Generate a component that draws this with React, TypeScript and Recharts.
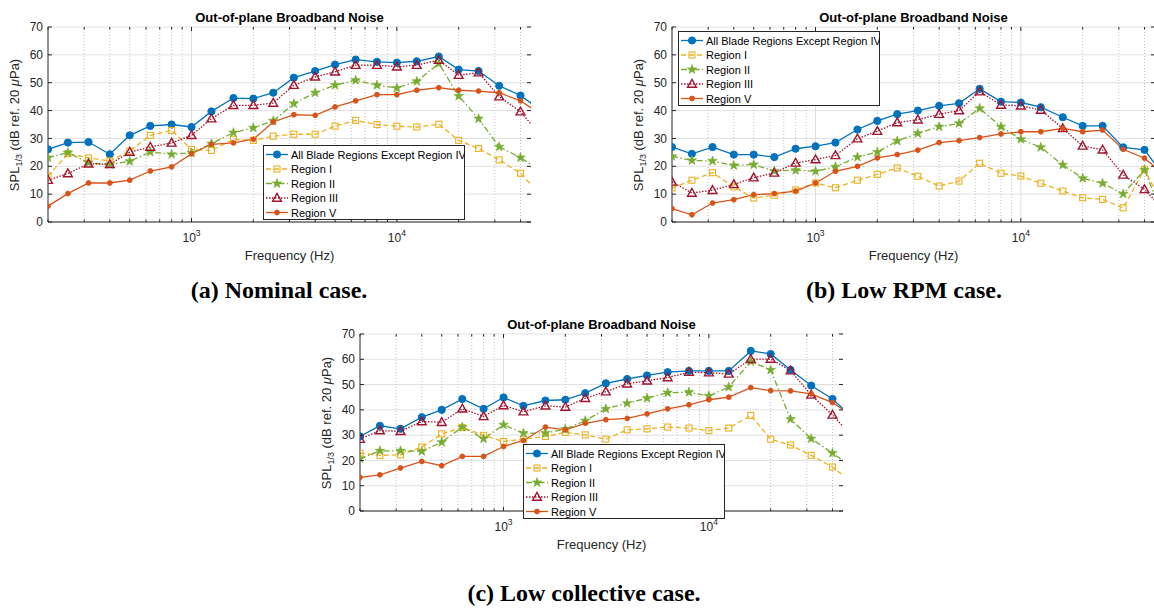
import React from 'react';
import { LineChart, Line, XAxis, YAxis, CartesianGrid, ReferenceLine } from 'recharts';

// 1/3-octave band centre frequencies (Hz); last band lies past the axis limit
const FREQ = [
  200, 250, 315, 400, 500, 630, 800, 1000, 1250, 1600, 2000, 2500, 3150, 4000,
  5000, 6300, 8000, 10000, 12500, 16000, 20000, 25000, 31500, 40000, 50000,
];

// (a) Nominal case
const A_ALL = [26.1, 28.5, 28.7, 24.3, 31.1, 34.5, 35.0, 34.1, 39.7, 44.5, 44.3, 46.4, 51.8, 54.2, 56.5, 58.3, 57.5, 57.2, 57.7, 59.4, 54.7, 54.2, 48.9, 45.4, 40.2];
const A_R1 = [16.5, 24.5, 23.0, 21.9, 25.5, 31.1, 32.9, 26.0, 25.7, 29.7, 29.3, 30.8, 31.5, 31.5, 34.4, 36.5, 35.0, 34.4, 34.1, 35.1, 29.3, 26.4, 22.3, 17.5, 9.7];
const A_R2 = [23.1, 24.9, 21.3, 20.6, 21.8, 25.1, 24.3, 24.8, 28.1, 32.1, 33.8, 36.3, 42.5, 46.4, 49.1, 50.9, 49.1, 48.1, 50.5, 56.9, 45.2, 37.1, 27.0, 23.1, 18.5];
const A_R3 = [15.0, 17.4, 20.9, 20.7, 25.1, 26.9, 28.4, 31.1, 37.1, 41.9, 41.9, 42.7, 49.1, 52.1, 53.9, 56.3, 56.3, 55.7, 56.3, 58.1, 52.7, 53.6, 45.0, 39.6, 31.2];
const A_R5 = [5.7, 10.2, 14.0, 14.0, 15.0, 18.3, 19.8, 24.5, 27.9, 28.4, 29.7, 35.9, 38.5, 38.3, 41.3, 43.5, 45.7, 45.7, 47.3, 48.2, 47.3, 47.0, 46.4, 43.5, 38.7];

// (b) Low RPM case
const B_ALL = [26.9, 24.5, 26.9, 24.2, 24.2, 23.3, 26.3, 27.2, 28.5, 33.2, 36.3, 38.7, 40.0, 41.7, 42.6, 47.8, 43.2, 42.9, 41.2, 37.6, 34.5, 34.5, 26.8, 25.9, 16.3];
const B_R1 = [12.2, 15.0, 17.7, 12.6, 8.6, 9.6, 11.5, 14.0, 12.3, 15.0, 17.1, 19.4, 16.4, 12.9, 14.7, 21.1, 17.5, 16.5, 13.9, 11.1, 8.7, 8.1, 5.1, 18.9, 5.0];
const B_R2 = [23.6, 22.1, 21.9, 20.3, 20.6, 18.3, 18.6, 18.2, 19.8, 23.3, 25.1, 29.1, 31.8, 34.2, 35.4, 40.8, 34.2, 29.7, 26.8, 20.5, 15.7, 13.9, 10.1, 18.7, 1.0];
const B_R3 = [14.4, 10.4, 11.4, 13.5, 15.9, 17.6, 21.2, 22.4, 23.9, 29.9, 32.6, 35.7, 36.7, 38.7, 40.0, 46.8, 42.0, 41.7, 40.2, 33.6, 27.3, 25.9, 16.9, 11.7, 4.1];
const B_R5 = [4.8, 2.6, 6.8, 8.0, 9.8, 10.2, 11.1, 14.0, 18.2, 20.0, 23.0, 24.2, 25.8, 28.5, 29.2, 30.3, 31.6, 32.4, 32.4, 33.6, 32.4, 33.0, 26.1, 22.9, 16.9];

// (c) Low collective case
const C_ALL = [29.5, 33.7, 32.5, 37.1, 40.0, 44.3, 40.4, 44.9, 41.6, 43.7, 44.0, 46.6, 50.5, 52.2, 53.6, 54.9, 55.4, 55.4, 55.4, 63.3, 62.1, 55.8, 49.6, 44.3, 37.1];
const C_R1 = [22.9, 22.0, 22.2, 25.3, 30.5, 33.0, 29.9, 27.5, 28.4, 29.5, 31.1, 30.1, 28.4, 32.1, 32.5, 33.2, 32.8, 31.8, 32.8, 37.8, 28.4, 26.1, 22.0, 17.4, 11.2];
const C_R2 = [20.7, 23.8, 23.8, 23.6, 27.2, 33.2, 28.6, 34.1, 30.8, 30.8, 32.4, 35.7, 40.4, 42.6, 44.6, 46.8, 47.0, 45.5, 49.0, 59.1, 55.8, 36.3, 28.6, 22.9, 17.1];
const C_R3 = [28.4, 31.8, 31.5, 35.4, 35.1, 40.4, 37.4, 41.7, 39.3, 41.6, 41.1, 44.6, 47.2, 50.3, 51.5, 52.8, 54.9, 54.7, 54.2, 60.0, 60.1, 55.5, 45.9, 38.0, 29.4];
const C_R5 = [13.3, 14.3, 17.0, 19.6, 17.9, 21.6, 21.6, 25.5, 27.9, 33.2, 32.1, 34.7, 36.1, 36.6, 38.4, 40.4, 42.0, 44.0, 45.0, 48.8, 47.6, 47.5, 46.3, 42.9, 37.7];

const Y_TICKS = [0, 10, 20, 30, 40, 50, 60, 70];
const X_MAJOR = [1000, 10000];
const X_MINOR = [300, 400, 500, 600, 700, 800, 900, 2000, 3000, 4000, 5000, 6000, 7000, 8000, 9000, 20000, 30000, 40000];
const X_TICKS = [200, ...X_MINOR, ...X_MAJOR].sort((a, b) => a - b);
const X_DOMAIN = [200, 45000];

const SERIES = [
  { key: 'all', name: 'All Blade Regions Except Region IV', color: '#0072BD', dash: undefined, marker: 'circle' },
  { key: 'r1', name: 'Region I', color: '#EDB120', dash: '5 3', marker: 'square' },
  { key: 'r2', name: 'Region II', color: '#77AC30', dash: '6 2.5 1.5 2.5', marker: 'star' },
  { key: 'r3', name: 'Region III', color: '#A2142F', dash: '1.5 1.5', marker: 'triangle' },
  { key: 'r5', name: 'Region V', color: '#D95319', dash: undefined, marker: 'dot' },
];

const AXIS = '#262626';
const SANS = '"Liberation Sans", Arial, Helvetica, sans-serif';
const SERIF = '"Liberation Serif", "Times New Roman", serif';
const PW = 483; // plot width
const ML = 50;
const MT = 10;
const MR = 3;
const XH = 42;

function Marker({ kind, cx, cy, color }: { kind: string; cx: number; cy: number; color: string }) {
  if (kind === 'circle') return <circle cx={cx} cy={cy} r={3.6} fill={color} stroke={color} />;
  if (kind === 'square')
    return <rect x={cx - 3} y={cy - 3} width={6} height={6} fill="none" stroke={color} strokeWidth={1.1} />;
  if (kind === 'triangle')
    return (
      <polygon
        points={`${cx},${cy - 4.6} ${cx - 4.4},${cy + 3.2} ${cx + 4.4},${cy + 3.2}`}
        fill="none"
        stroke={color}
        strokeWidth={1.4}
      />
    );
  if (kind === 'star') {
    const pts: string[] = [];
    for (let i = 0; i < 10; i++) {
      const a = ((-90 + i * 36) * Math.PI) / 180;
      const r = i % 2 === 0 ? 5 : 2;
      pts.push(`${cx + r * Math.cos(a)},${cy + r * Math.sin(a)}`);
    }
    return <polygon points={pts.join(' ')} fill={color} stroke={color} strokeWidth={0.6} />;
  }
  return <circle cx={cx} cy={cy} r={2.4} fill={color} stroke={color} />;
}

function LegendBox({ x, y }: { x: number; y: number }) {
  const w = 201;
  const h = 74;
  return (
    <svg style={{ position: 'absolute', left: x, top: y }} width={w + 1} height={h + 1}>
      <rect x={0.5} y={0.5} width={w} height={h} fill="#fff" stroke={AXIS} />
      {SERIES.map((s, i) => {
        const cy = 9.5 + i * 14.5;
        return (
          <g key={s.key}>
            <line x1={3} x2={25} y1={cy} y2={cy} stroke={s.color} strokeWidth={1.3} strokeDasharray={s.dash} />
            <Marker kind={s.marker} cx={14} cy={cy} color={s.color} />
            <text x={28} y={cy + 4} fontSize={11} fill="#000" fontFamily={SANS}>
              {s.name}
            </text>
          </g>
        );
      })}
    </svg>
  );
}

type PanelProps = {
  px: number;
  py: number;
  ph: number;
  values: number[][];
  legend: [number, number];
  caption: string;
  capX: number;
  capY: number;
};

function Panel({ px, py, ph, values, legend, caption, capX, capY }: PanelProps) {
  const rows = FREQ.map((f, i) => {
    const r: Record<string, number> = { f };
    SERIES.forEach((s, k) => {
      r[s.key] = values[k][i];
    });
    return r;
  });
  const bottom = MT + ph;
  const top = MT;
  const left = ML;
  const right = ML + PW;

  const xTick = (p: any) => {
    const v = p.payload.value;
    const e = Math.round(Math.log10(v));
    const major = X_MAJOR.includes(v);
    const len = major ? 4 : 2.5;
    return (
      <g>
        <line x1={p.x} x2={p.x} y1={bottom} y2={bottom - len} stroke={AXIS} />
        <line x1={p.x} x2={p.x} y1={top} y2={top + len} stroke={AXIS} />
        {major && (
          <text x={p.x} y={bottom + 20} textAnchor="middle" fontSize={12} fill={AXIS} fontFamily={SANS}>
            10
            <tspan dy={-6} fontSize={8.5}>
              {e}
            </tspan>
          </text>
        )}
      </g>
    );
  };

  const yTick = (p: any) => (
    <g>
      <line x1={left} x2={left + 4} y1={p.y} y2={p.y} stroke={AXIS} />
      <line x1={right - 4} x2={right} y1={p.y} y2={p.y} stroke={AXIS} />
      <text x={left - 5} y={p.y + 4.2} textAnchor="end" fontSize={12} fill={AXIS} fontFamily={SANS}>
        {p.payload.value}
      </text>
    </g>
  );

  const cx = px + PW / 2;
  return (
    <>
      <div style={{ position: 'absolute', left: px - ML, top: py - MT }}>
        <LineChart
          width={ML + PW + MR}
          height={MT + ph + XH}
          data={rows}
          margin={{ top: MT, right: MR, bottom: 0, left: 0 }}
        >
          <CartesianGrid stroke="#e1e1e1" vertical={false} />
          {X_MINOR.map((v) => (
            <ReferenceLine key={`mn${v}`} x={v} stroke="#c2c2c2" strokeDasharray="1 2" />
          ))}
          {X_MAJOR.map((v) => (
            <ReferenceLine key={`mj${v}`} x={v} stroke="#dedede" />
          ))}
          <XAxis
            dataKey="f"
            type="number"
            scale="log"
            domain={X_DOMAIN}
            allowDataOverflow
            ticks={X_TICKS}
            interval={0}
            tickLine={false}
            axisLine={{ stroke: AXIS }}
            tick={xTick}
            height={XH}
          />
          <XAxis
            xAxisId="top"
            orientation="top"
            dataKey="f"
            type="number"
            scale="log"
            domain={X_DOMAIN}
            allowDataOverflow
            tick={false}
            tickLine={false}
            axisLine={{ stroke: AXIS }}
            height={0}
          />
          <YAxis
            domain={[0, 70]}
            ticks={Y_TICKS}
            interval={0}
            allowDataOverflow
            tickLine={false}
            axisLine={{ stroke: AXIS }}
            tick={yTick}
            width={ML}
          />
          <YAxis
            yAxisId="right"
            orientation="right"
            domain={[0, 70]}
            tick={false}
            tickLine={false}
            axisLine={{ stroke: AXIS }}
            width={0}
          />
          {SERIES.map((s) => (
            <Line
              key={s.key}
              dataKey={s.key}
              type="linear"
              stroke={s.color}
              strokeWidth={1.3}
              strokeDasharray={s.dash}
              isAnimationActive={false}
              dot={(p: any) =>
                p.cx == null || p.cy == null ? (
                  <g key={`${s.key}-${p.index}`} />
                ) : (
                  <Marker key={`${s.key}-${p.index}`} kind={s.marker} cx={p.cx} cy={p.cy} color={s.color} />
                )
              }
              activeDot={false}
            />
          ))}
        </LineChart>
      </div>
      <div
        style={{
          position: 'absolute',
          left: cx,
          top: py - 10,
          transform: 'translate(-50%, -50%)',
          fontFamily: SANS,
          fontWeight: 'bold',
          fontSize: 13,
          color: '#000',
          whiteSpace: 'nowrap',
          lineHeight: 1,
        }}
      >
        Out-of-plane Broadband Noise
      </div>
      <div
        style={{
          position: 'absolute',
          left: cx,
          top: py + ph + 33,
          transform: 'translate(-50%, -50%)',
          fontFamily: SANS,
          fontSize: 13,
          color: AXIS,
          whiteSpace: 'nowrap',
          lineHeight: 1,
        }}
      >
        Frequency (Hz)
      </div>
      <div
        style={{
          position: 'absolute',
          left: px - 34,
          top: py + ph / 2,
          transform: 'translate(-50%, -50%) rotate(-90deg)',
          fontFamily: SANS,
          fontSize: 13,
          color: AXIS,
          whiteSpace: 'nowrap',
          lineHeight: 1,
        }}
      >
        SPL<span style={{ fontSize: 9, position: 'relative', top: 3 }}>1/3</span> (dB ref. 20{' '}
        <i>μ</i>Pa)
      </div>
      <LegendBox x={legend[0]} y={legend[1]} />
      <div
        style={{
          position: 'absolute',
          left: capX,
          top: capY,
          transform: 'translate(-50%, -50%)',
          fontFamily: SERIF,
          fontWeight: 'bold',
          fontSize: 24,
          color: '#000',
          whiteSpace: 'nowrap',
          lineHeight: 1,
        }}
      >
        {caption}
      </div>
    </>
  );
}

export default function App() {
  return (
    <div
      style={{
        position: 'absolute',
        left: 0,
        top: 0,
        width: 1154,
        height: 608,
        overflow: 'hidden',
        background: '#fff',
      }}
    >
      <Panel
        px={48}
        py={27}
        ph={195}
        values={[A_ALL, A_R1, A_R2, A_R3, A_R5]}
        legend={[263, 145]}
        caption="(a) Nominal case."
        capX={279}
        capY={290}
      />
      <Panel
        px={672}
        py={27}
        ph={195}
        values={[B_ALL, B_R1, B_R2, B_R3, B_R5]}
        legend={[678, 31]}
        caption="(b) Low RPM case."
        capX={904}
        capY={290}
      />
      <Panel
        px={360}
        py={334}
        ph={177}
        values={[C_ALL, C_R1, C_R2, C_R3, C_R5]}
        legend={[523, 444]}
        caption="(c) Low collective case."
        capX={584}
        capY={593}
      />
    </div>
  );
}
